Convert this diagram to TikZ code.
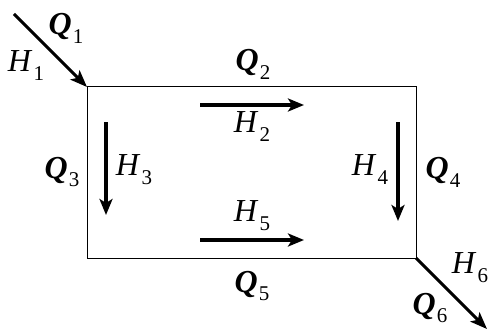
\documentclass[tikz,border=0pt]{standalone}
\usepackage{fontspec}
\setmainfont{Liberation Serif}
\usetikzlibrary{arrows.meta}
\newcommand{\subn}[1]{\raisebox{-0.28em}{\fontsize{21}{24}\selectfont #1}}
\newcommand{\Qv}[1]{\textbf{\textit{Q}}\kern1pt\subn{#1}}
\newcommand{\Hv}[1]{\textit{H}\kern1pt\subn{#1}}
\tikzset{
  flow/.style={line width=4pt,-{Stealth[length=16pt,width=13pt,inset=4pt]}},
  diag/.style={line width=3pt,-{Stealth[length=17pt,width=13pt,inset=4pt]}},
  box/.style={line width=1pt},
  lbl/.style={inner sep=0pt,font=\fontsize{32}{36}\selectfont},
}
\begin{document}
\begin{tikzpicture}[x=1pt,y=-1pt]
\useasboundingbox (0,0) rectangle (489,334);
\coordinate (tl) at (87,87);
\coordinate (br) at (416,258);
\draw[box] (tl) rectangle (br);
% diagonal in/out
\coordinate (inS) at (14,14);
\coordinate (outE) at (487,329);
\draw[diag] (inS) -- (tl);
\draw[diag] (br) -- (outE);
% inner arrows
\coordinate (a2s) at (200,105); \coordinate (a2e) at (304,105);
\coordinate (a5s) at (200,240); \coordinate (a5e) at (304,240);
\coordinate (a3s) at (106,122); \coordinate (a3e) at (106,215);
\coordinate (a4s) at (398,122); \coordinate (a4e) at (398,221);
\draw[flow] (a2s) -- (a2e);
\draw[flow] (a5s) -- (a5e);
\draw[flow] (a3s) -- (a3e);
\draw[flow] (a4s) -- (a4e);
% labels
\node[lbl] (Q1) at (66,28) {\Qv{1}};
\node[lbl] (H1) at (26,66) {\Hv{1}};
\node[lbl] (Q2) at (253,64) {\Qv{2}};
\node[lbl] (H2) at (252,127) {\Hv{2}};
\node[lbl] (Q3) at (62,172) {\Qv{3}};
\node[lbl] (H3) at (134,170) {\Hv{3}};
\node[lbl] (H4) at (370,170) {\Hv{4}};
\node[lbl] (Q4) at (443,172) {\Qv{4}};
\node[lbl] (H5) at (252,216) {\Hv{5}};
\node[lbl] (Q5) at (252,286) {\Qv{5}};
\node[lbl] (H6) at (470,268) {\Hv{6}};
\node[lbl] (Q6) at (430,308) {\Qv{6}};
\end{tikzpicture}
\end{document}
